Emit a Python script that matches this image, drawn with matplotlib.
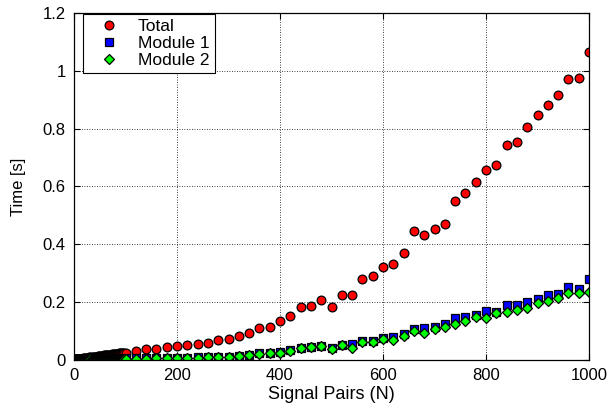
import matplotlib

matplotlib.use("Agg")
import matplotlib.pyplot as plt
from matplotlib.ticker import FormatStrFormatter, MultipleLocator

plt.rcParams["font.family"] = ["Liberation Sans", "DejaVu Sans"]
plt.rcParams["font.size"] = 12

# dense sweep 0..98 (step 2), then coarse sweep 100..1000 (step 20)
n_dense = list(range(0, 100, 2))
n_coarse = list(range(100, 1001, 20))
signal_pairs = n_dense + n_coarse

total_dense = [
    0.001, 0.002, 0.002, 0.003, 0.003, 0.004, 0.004, 0.005, 0.005, 0.006,
    0.006, 0.007, 0.007, 0.008, 0.008, 0.009, 0.009, 0.010, 0.010, 0.011,
    0.011, 0.012, 0.012, 0.013, 0.013, 0.014, 0.014, 0.015, 0.015, 0.016,
    0.016, 0.017, 0.017, 0.018, 0.018, 0.019, 0.019, 0.020, 0.020, 0.021,
    0.021, 0.022, 0.022, 0.022, 0.023, 0.023, 0.023, 0.024, 0.024, 0.024,
]
total_coarse = [
    0.025, 0.032, 0.037, 0.039, 0.044, 0.047, 0.051, 0.054, 0.060, 0.068,
    0.074, 0.083, 0.094, 0.111, 0.113, 0.136, 0.153, 0.182, 0.188, 0.209,
    0.182, 0.224, 0.224, 0.279, 0.291, 0.321, 0.332, 0.371, 0.447, 0.433,
    0.454, 0.470, 0.549, 0.579, 0.616, 0.656, 0.674, 0.745, 0.753, 0.805,
    0.848, 0.882, 0.918, 0.973, 0.976, 1.066,
]

module1_dense = [
    0.002, 0.002, 0.002, 0.002, 0.002, 0.002, 0.002, 0.002, 0.003, 0.003,
    0.003, 0.003, 0.003, 0.003, 0.003, 0.003, 0.003, 0.003, 0.003, 0.003,
    0.003, 0.003, 0.003, 0.003, 0.004, 0.004, 0.004, 0.004, 0.004, 0.004,
    0.004, 0.004, 0.004, 0.004, 0.004, 0.004, 0.004, 0.004, 0.005, 0.005,
    0.005, 0.005, 0.005, 0.005, 0.005, 0.005, 0.005, 0.005, 0.005, 0.005,
]
module1_coarse = [
    0.006, 0.006, 0.006, 0.007, 0.007, 0.008, 0.008, 0.009, 0.010, 0.011,
    0.012, 0.014, 0.017, 0.024, 0.025, 0.028, 0.033, 0.042, 0.045, 0.049,
    0.041, 0.053, 0.055, 0.064, 0.067, 0.075, 0.078, 0.089, 0.106, 0.109,
    0.115, 0.124, 0.144, 0.150, 0.155, 0.171, 0.167, 0.190, 0.190, 0.202,
    0.211, 0.225, 0.228, 0.251, 0.245, 0.279,
]

module2_dense = [
    0.002, 0.002, 0.002, 0.002, 0.002, 0.002, 0.002, 0.002, 0.002, 0.002,
    0.003, 0.003, 0.003, 0.003, 0.003, 0.003, 0.003, 0.003, 0.003, 0.003,
    0.003, 0.003, 0.003, 0.003, 0.003, 0.003, 0.003, 0.003, 0.004, 0.004,
    0.004, 0.004, 0.004, 0.004, 0.004, 0.004, 0.004, 0.004, 0.004, 0.004,
    0.004, 0.004, 0.004, 0.004, 0.004, 0.005, 0.005, 0.005, 0.005, 0.005,
]
module2_coarse = [
    0.005, 0.005, 0.005, 0.006, 0.006, 0.007, 0.007, 0.008, 0.009, 0.010,
    0.011, 0.013, 0.016, 0.021, 0.023, 0.025, 0.032, 0.041, 0.044, 0.048,
    0.038, 0.051, 0.043, 0.061, 0.063, 0.072, 0.069, 0.084, 0.101, 0.092,
    0.108, 0.115, 0.125, 0.136, 0.150, 0.144, 0.161, 0.167, 0.173, 0.181,
    0.196, 0.204, 0.213, 0.233, 0.231, 0.236,
]

total = total_dense + total_coarse
module1 = module1_dense + module1_coarse
module2 = module2_dense + module2_coarse

fig = plt.figure(figsize=(6.11, 4.09), dpi=100)
ax = fig.add_axes([74 / 611, 49 / 409, 515 / 611, 347 / 409])

ax.plot(signal_pairs, total, "o", ls="none", ms=6.3, mfc="#ff0000", mec="black",
        mew=0.9, label="Total")
ax.plot(signal_pairs, module1, "s", ls="none", ms=5.8, mfc="#0000ff", mec="black",
        mew=0.9, label="Module 1")
ax.plot(signal_pairs, module2, "D", ls="none", ms=5.0, mfc="#00ff00", mec="black",
        mew=0.9, label="Module 2")

ax.set_xlim(0, 1000)
ax.set_ylim(0, 1.2)
ax.xaxis.set_major_locator(MultipleLocator(200))
ax.yaxis.set_major_locator(MultipleLocator(0.2))
ax.yaxis.set_major_formatter(FormatStrFormatter("%g"))
ax.grid(True, color="black", linestyle=(0, (1, 2)), linewidth=0.6)
ax.tick_params(direction="in", length=4, width=0.8, top=True, right=True,
               labelsize=12, pad=6)
for side in ax.spines.values():
    side.set_linewidth(0.9)

ax.set_xlabel("Signal Pairs (N)", fontsize=13, labelpad=2)
ax.set_ylabel("Time [s]", fontsize=12, labelpad=12)

leg = ax.legend(loc="upper left", bbox_to_anchor=(9 / 515, 1 - 1 / 347),
                borderaxespad=0, fancybox=False, framealpha=1,
                edgecolor="black", fontsize=12.5, labelspacing=0.1,
                handlelength=2.4, handletextpad=0.45, borderpad=0.3,
                numpoints=1)
leg.get_frame().set_linewidth(0.8)

fig.savefig("out.png", dpi=100)
